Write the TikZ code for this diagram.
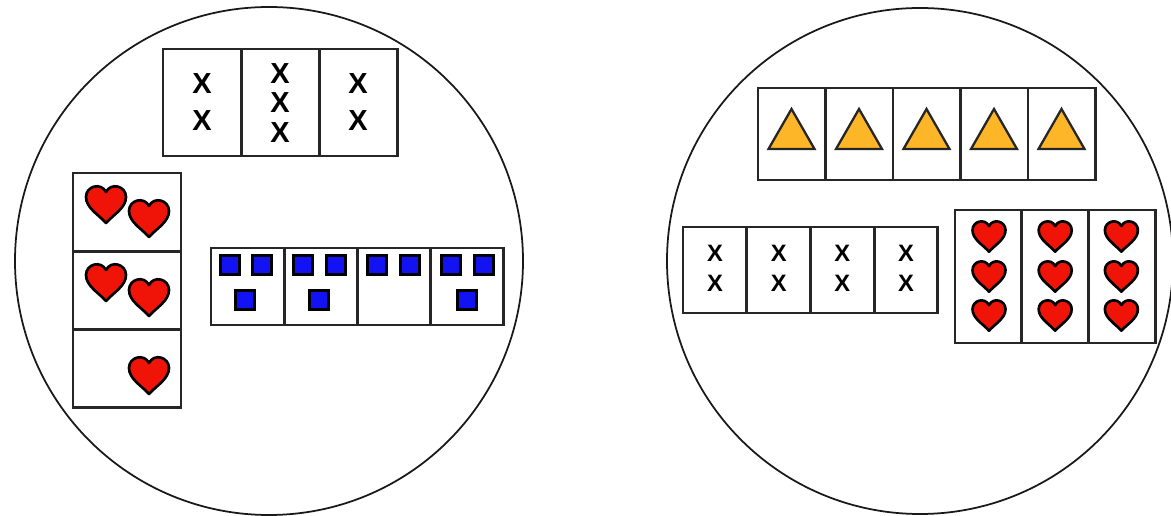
\documentclass[tikz,border=0pt]{standalone}
\usepackage{fontspec}
\setmainfont{Liberation Sans}

\definecolor{heartred}{HTML}{F01408}
\definecolor{triorange}{HTML}{FDB628}
\definecolor{sqblue}{HTML}{1212F2}

\tikzset{
  ring/.style={draw=black!90, line width=1pt},
  cellbox/.style={draw=black!85, line width=1.6pt},
  heartmark/.style={draw=black, line width=1.5pt, fill=heartred, line join=round},
  trimark/.style={draw=black!85, line width=1.3pt, fill=triorange, line join=miter},
  sqmark/.style={draw=black, line width=1.4pt, fill=sqblue},
  bigx/.style={inner sep=0pt, font=\fontsize{16.5}{16.5}\selectfont\bfseries},
  smallx/.style={inner sep=0pt, font=\fontsize{13.5}{13.5}\selectfont\bfseries},
  pics/heart/.style={code={
    \filldraw[heartmark] (0,0.95) .. controls (-0.35,0.55) and (-1,0.2) .. (-1,-0.35)
      .. controls (-1,-0.9) and (-0.25,-1.1) .. (0,-0.6)
      .. controls (0.25,-1.1) and (1,-0.9) .. (1,-0.35)
      .. controls (1,0.2) and (0.35,0.55) .. (0,0.95) -- cycle;
  }}
}

\begin{document}
\begin{tikzpicture}[x=0.02cm, y=-0.02cm]

\useasboundingbox (0,0) rectangle (1171,516);

% The two circles
\draw[ring] (269,261) circle (254);
\draw[ring] (920,261) circle (253);

% Left: the crosses
\foreach \i in {0,1,2}
  \draw[cellbox] ({163+78.3*\i},49) rectangle ++(78.3,107);
\node[bigx] (lxa1) at (202,84) {X};
\node[bigx] (lxa2) at (202,121) {X};
\node[bigx] (lxb1) at (280,74) {X};
\node[bigx] (lxb2) at (280,103) {X};
\node[bigx] (lxb3) at (280,133) {X};
\node[bigx] (lxc1) at (358,84) {X};
\node[bigx] (lxc2) at (358,121) {X};

% Left: the hearts
\foreach \i in {0,1,2}
  \draw[cellbox] (73,{173+78.3*\i}) rectangle ++(108,78.3);
\pic[scale=20] at (106,204) {heart};
\pic[scale=20] at (149,218) {heart};
\pic[scale=20] at (106,282) {heart};
\pic[scale=20] at (149,297) {heart};
\pic[scale=20] at (149,375) {heart};

% Left: the squares
\foreach \i in {0,1,2,3}
  \draw[cellbox] ({211+73.2*\i},248) rectangle ++(73.2,77);
\foreach \x/\y in {230/265, 262/265, 245/300,
                   303/265, 336/265, 319/300,
                   377/265, 410/265,
                   451/265, 484/265, 467/300}
  \filldraw[sqmark] (\x-9.5,\y-9.5) rectangle ++(19,19);

% Right: the triangles
\foreach \i in {0,1,2,3,4} {
  \draw[cellbox] ({758+67.5*\i},88) rectangle ++(67.5,92);
  \filldraw[trimark] ({791.5+67.5*\i},109) -- ++(23,40) -- ++(-46,0) -- cycle;
}

% Right: the crosses
\foreach \i in {0,1,2,3} {
  \draw[cellbox] ({683+63.7*\i},227) rectangle ++(63.7,86);
  \node[smallx] (rxa\i) at ({715+63.7*\i},253) {X};
  \node[smallx] (rxb\i) at ({715+63.7*\i},283) {X};
}

% Right: the hearts
\foreach \i in {0,1,2} {
  \draw[cellbox] ({955+66.7*\i},210) rectangle ++(66.7,133);
  \foreach \y in {236,276,315}
    \pic[scale=16.5] at ({989+66.2*\i},\y) {heart};
}

\end{tikzpicture}
\end{document}
